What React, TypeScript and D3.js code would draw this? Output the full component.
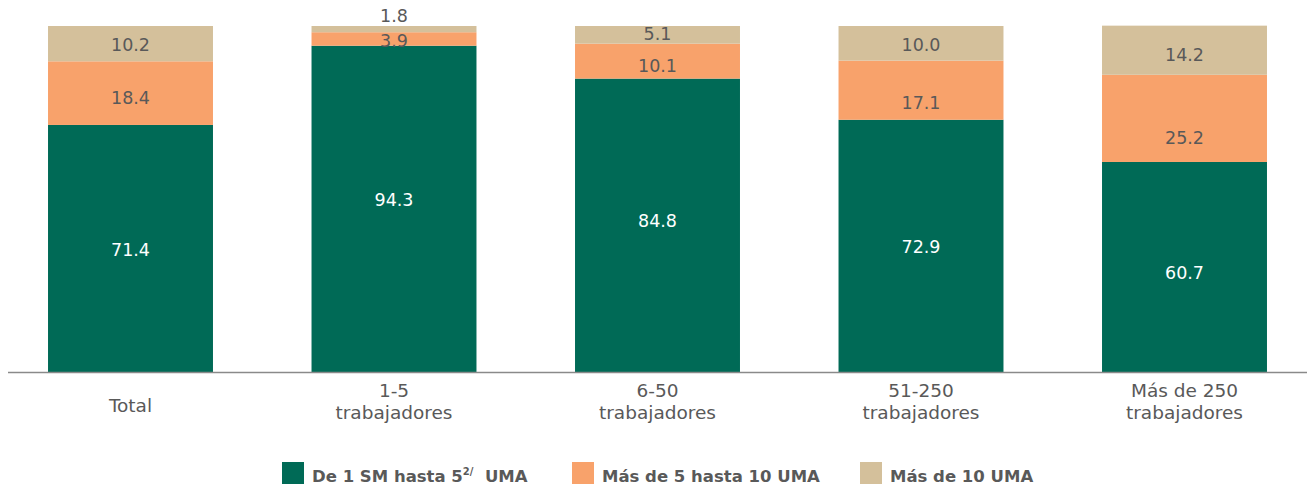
import React, { useEffect, useRef } from "react";
import * as d3 from "d3";

const categories = ["Total", "1-5\ntrabajadores", "6-50\ntrabajadores", "51-250\ntrabajadores", "Más de 250\ntrabajadores"];
const seriesNames = ["De 1 SM hasta 5", "Más de 5 hasta 10 UMA", "Más de 10 UMA"];
const serieLow = [71.4, 94.3, 84.8, 72.9, 60.7];
const serieMid = [18.4, 3.9, 10.1, 17.1, 25.2];
const serieHigh = [10.2, 1.8, 5.1, 10.0, 14.2];
const colors = ["#006A56", "#F8A26B", "#D4C09B"];
// label vertical nudges (px) from segment centre, per series per category
const nudgeLow = [1.5, -9, -4.5, 1, 5.5];
const nudgeMid = [4.5, 2, 5, 12.5, 19];
const nudgeHigh = [1, 0, -1.5, 1.5, 4.5];

const W = 1307;
const H = 485;
const FONT = "'DejaVu Sans', sans-serif";
const TEXT = "#595959";

export default function App() {
  const ref = useRef<SVGSVGElement | null>(null);
  useEffect(() => {
    const svg = d3.select(ref.current);
    svg.selectAll("*").remove();
    const x = d3.scaleBand<string>().domain(categories).range([-1.25, 1316.25]).paddingInner(0.374).paddingOuter(0.187);
    const y = d3.scaleLinear().domain([0, 100]).range([372, 26]);
    const data = categories.map((c, i) => ({ cat: c, v0: serieLow[i], v1: serieMid[i], v2: serieHigh[i] }));
    const stack = d3.stack<any>().keys(["v0", "v1", "v2"]);
    const layers = stack(data);
    const nudges = [nudgeLow, nudgeMid, nudgeHigh];

    layers.forEach((layer, li) => {
      const g = svg.append("g");
      g.selectAll("rect")
        .data(layer)
        .join("rect")
        .attr("x", (d: any) => x(d.data.cat)!)
        .attr("width", x.bandwidth())
        .attr("y", (d: any) => y(d[1]))
        .attr("height", (d: any) => y(d[0]) - y(d[1]))
        .attr("fill", colors[li]);
    });

    layers.forEach((layer, li) => {
      const g = svg.append("g");
      g.selectAll("text")
        .data(layer)
        .join("text")
        .attr("x", (d: any) => x(d.data.cat)! + x.bandwidth() / 2)
        .attr("y", (d: any, i: number) => {
          const top = y(d[1]);
          const bot = y(d[0]);
          if (bot - top < 10) return top - 10;
          return (top + bot) / 2 + nudges[li][i];
        })
        .attr("dy", "0.36em")
        .attr("text-anchor", "middle")
        .attr("font-family", FONT)
        .attr("font-size", 17.5)
        .attr("fill", li === 0 ? "#ffffff" : TEXT)
        .text((d: any) => (d[1] - d[0]).toFixed(1));
    });

    // axis
    svg.append("line")
      .attr("x1", 8).attr("x2", W)
      .attr("y1", y(0) + 0.5).attr("y2", y(0) + 0.5)
      .attr("stroke", "#8a8a8a").attr("stroke-width", 1.5);

    const xl = svg.append("g");
    categories.forEach((c) => {
      const lines = c.split("\n");
      const t = xl.append("text")
        .attr("x", x(c)! + x.bandwidth() / 2)
        .attr("text-anchor", "middle")
        .attr("font-family", FONT)
        .attr("font-size", 18.5)
        .attr("fill", TEXT);
      if (lines.length === 1) {
        t.attr("y", 412).text(lines[0]);
      } else {
        lines.forEach((l, k) => {
          t.append("tspan").attr("x", x(c)! + x.bandwidth() / 2).attr("y", 397 + k * 21.5).text(l);
        });
      }
    });

    // legend
    const legX = [282, 572, 860];
    const lg = svg.append("g");
    seriesNames.forEach((n, i) => {
      lg.append("rect").attr("x", legX[i]).attr("y", 462).attr("width", 22).attr("height", 22).attr("fill", colors[i]);
      const t = lg.append("text")
        .attr("x", legX[i] + 30)
        .attr("y", 482)
        .attr("font-family", FONT)
        .attr("font-weight", "bold")
        .attr("font-size", 16.5)
        .attr("fill", TEXT)
        .text(n);
      if (i === 0) {
        t.append("tspan").attr("font-size", 10).attr("dy", -7).text("2/");
        t.append("tspan").attr("dy", 7).text("\u00a0 UMA");
      }
    });
  }, []);
  return (
    <svg ref={ref} width={W} height={H} style={{ position: "absolute", left: 0, top: 0, background: "#fff" }} />
  );
}
